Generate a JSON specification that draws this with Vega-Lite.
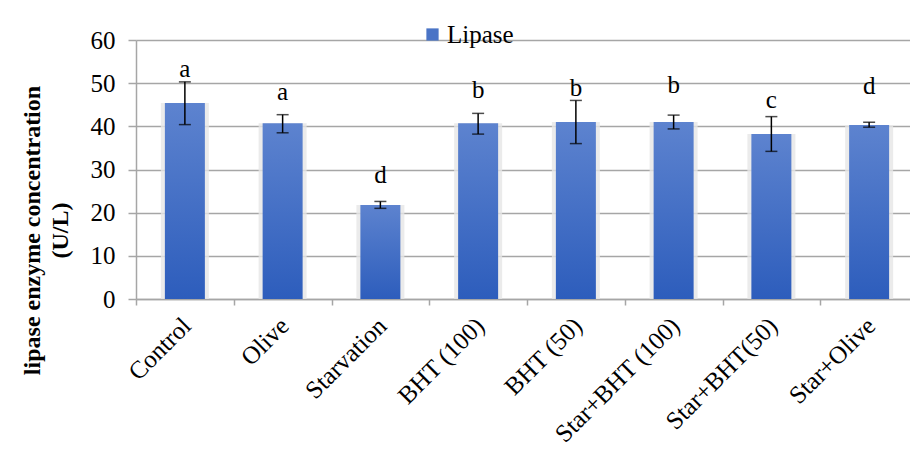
{
  "$schema": "https://vega.github.io/schema/vega-lite/v6.json",
  "autosize": {"type": "none"},
  "padding": {"left": 136, "top": 40, "right": 0, "bottom": 158},
  "width": 774,
  "height": 259,
  "background": "white",
  "config": {
    "font": "Liberation Serif, Times New Roman, serif",
    "view": {"stroke": null},
    "axis": {"labelFont": "Liberation Serif, Times New Roman, serif", "titleFont": "Liberation Serif, Times New Roman, serif", "labelColor": "black", "titleColor": "black"},
    "axisY": {"labelFont": "Liberation Serif, Times New Roman, serif"},
    "legend": {"labelFont": "Liberation Serif, Times New Roman, serif", "titleFont": "Liberation Serif, Times New Roman, serif"},
    "style": {"guide-label": {"font": "Liberation Serif, Times New Roman, serif"}},
    "text": {"font": "Liberation Serif, Times New Roman, serif"}
  },
  "data": {
    "values": [
      {"group": "Control", "value": 45.4, "lo": 40.4, "hi": 50.3, "letter": "a", "ly": 51.5, "series": "Lipase"},
      {"group": "Olive", "value": 40.7, "lo": 38.5, "hi": 42.7, "letter": "a", "ly": 46.1, "series": "Lipase"},
      {"group": "Starvation", "value": 21.8, "lo": 21.0, "hi": 22.6, "letter": "d", "ly": 26.9, "series": "Lipase"},
      {"group": "BHT (100)", "value": 40.7, "lo": 38.2, "hi": 43.0, "letter": "b", "ly": 46.5, "series": "Lipase"},
      {"group": "BHT (50)", "value": 41.0, "lo": 36.0, "hi": 46.0, "letter": "b", "ly": 47.0, "series": "Lipase"},
      {"group": "Star+BHT (100)", "value": 41.0, "lo": 39.4, "hi": 42.6, "letter": "b", "ly": 47.8, "series": "Lipase"},
      {"group": "Star+BHT(50)", "value": 38.25, "lo": 34.2, "hi": 42.25, "letter": "c", "ly": 44.2, "series": "Lipase"},
      {"group": "Star+Olive", "value": 40.3, "lo": 39.8, "hi": 40.95, "letter": "d", "ly": 47.5, "series": "Lipase"}
    ]
  },
  "encoding": {
    "x": {
      "field": "group", "type": "nominal", "sort": null,
      "scale": {"range": [0, 782], "paddingInner": 0, "paddingOuter": 0},
      "axis": {
        "title": null, "labelAngle": -45, "labelAlign": "right", "labelBaseline": "top",
        "labelFontSize": 25, "labelOffset": -7, "labelPadding": 8,
        "tickBand": "extent", "tickSize": 6, "tickColor": "#a6a6a6", "tickWidth": 1.5,
        "domainColor": "#a6a6a6", "domainWidth": 1.5, "grid": false
      }
    },
    "y": {
      "field": "value", "type": "quantitative",
      "scale": {"domain": [0, 60], "nice": false},
      "axis": {
        "title": ["lipase enzyme concentration", "(U/L)"],
        "titleFontSize": 24, "titleFontWeight": "bold", "titleLineHeight": 28,
        "titleAngle": -90, "titleBaseline": "middle", "titleAlign": "center",
        "titleX": -104, "titleY": 190,
        "values": [0, 10, 20, 30, 40, 50, 60],
        "labelFontSize": 25, "labelPadding": 13,
        "tickSize": 8, "tickColor": "#a6a6a6", "tickWidth": 1.5,
        "domainColor": "#a6a6a6", "domainWidth": 1.5,
        "grid": true, "gridColor": "#a6a6a6", "gridWidth": 1.5
      }
    }
  },
  "layer": [
    {
      "mark": {"type": "bar", "size": 48, "fill": "#e6e6e6", "opacity": 0.8}
    },
    {
      "mark": {
        "type": "bar", "size": 40,
        "fill": {"x1": 0, "y1": 0, "x2": 0, "y2": 1, "gradient": "linear",
          "stops": [{"offset": 0, "color": "#5d83cf"}, {"offset": 1, "color": "#2d5dbc"}]}
      },
      "encoding": {
        "color": {
          "field": "series", "type": "nominal", "scale": {"range": ["#4a74c6"]},
          "legend": {
            "title": null, "orient": "none", "legendX": 284, "legendY": -18,
            "symbolType": "square", "symbolSize": 150, "symbolStrokeWidth": 0,
            "labelFontSize": 25, "labelColor": "black",
            "padding": 0, "labelOffset": 2
          }
        }
      }
    },
    {
      "mark": {"type": "rule", "color": "black", "strokeWidth": 1.5},
      "encoding": {
        "y": {"field": "lo", "type": "quantitative"},
        "y2": {"field": "hi"}
      }
    },
    {
      "mark": {"type": "tick", "color": "black", "size": 12, "thickness": 1.5},
      "encoding": {"y": {"field": "lo", "type": "quantitative"}}
    },
    {
      "mark": {"type": "tick", "color": "black", "size": 12, "thickness": 1.5},
      "encoding": {"y": {"field": "hi", "type": "quantitative"}}
    },
    {
      "mark": {"type": "text", "fontSize": 25, "baseline": "alphabetic", "color": "black"},
      "encoding": {
        "y": {"field": "ly", "type": "quantitative"},
        "text": {"field": "letter"}
      }
    }
  ]
}
